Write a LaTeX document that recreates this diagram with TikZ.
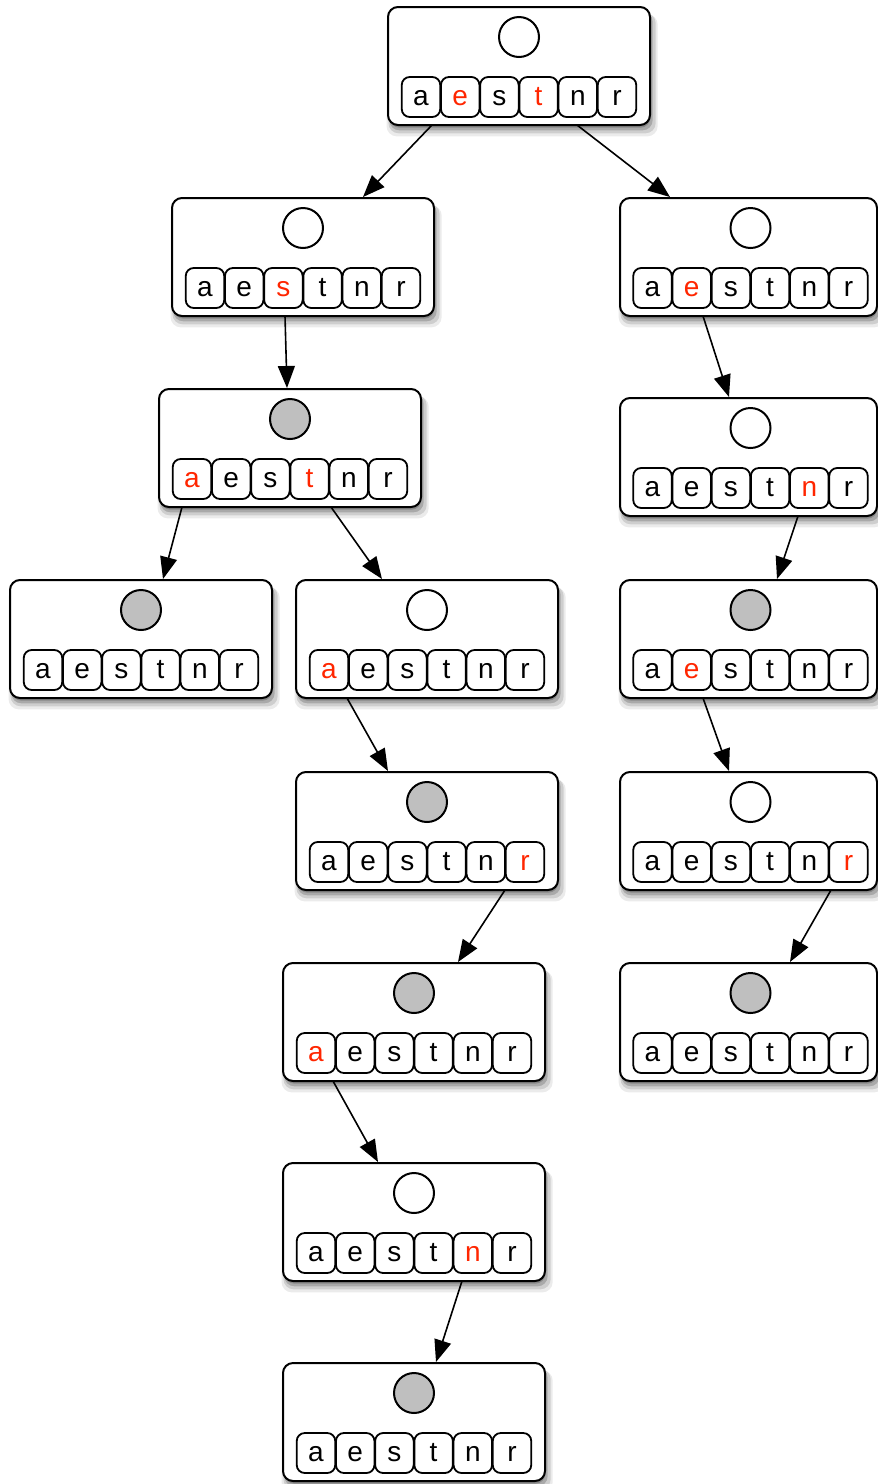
\documentclass[tikz,border=0pt]{standalone}
\usepackage{fontspec}
\setmainfont{Liberation Sans}
\usetikzlibrary{shadows,arrows.meta}
\definecolor{B}{RGB}{0,0,0}
\definecolor{R}{RGB}{255,38,0}
\definecolor{G}{RGB}{191,191,191}
\tikzset{
  statebox/.style={draw, line width=2pt, rounded corners=10pt, fill=white,
    minimum height=118pt, inner sep=0pt, outer sep=0pt,
    drop shadow={shadow xshift=3pt, shadow yshift=-9pt, shadow scale=1.035, fill=black, opacity=0.08},
    drop shadow={shadow xshift=3pt, shadow yshift=-7pt, shadow scale=1.02, fill=black, opacity=0.12},
    drop shadow={shadow xshift=2pt, shadow yshift=-5pt, shadow scale=1.005, fill=black, opacity=0.18},
    drop shadow={shadow xshift=1pt, shadow yshift=-3pt, shadow scale=0.995, fill=black, opacity=0.2}},
  cell/.style={draw, line width=1.8pt, rounded corners=8pt, fill=white,
    minimum width=38.5pt, minimum height=40pt, inner sep=0pt},
  dot/.style={circle, draw, line width=2pt, minimum size=40pt, inner sep=0pt},
  letter/.style={anchor=base, inner sep=0pt, font=\fontsize{28}{30}\selectfont},
  arr/.style={line width=1.6pt, -{Triangle[length=22pt,width=17pt]}}
}
\newcommand\mkbox[7]{%
  \node[statebox, minimum width=#3pt, anchor=north west] (#1) at (#2,#4) {};
  \node[dot, fill=#6] (#1-c) at (#5,#4+30) {};
  \foreach \L/\c [count=\i from 0] in {#7}{
    \node[cell] (#1-\i) at ({#5-98+39.2*\i},{#4+90}) {};
    \node[letter, text=\c] (#1-l\i) at ({#5-98+39.2*\i},{#4+98}) {\L};
  }
}
\begin{document}
\begin{tikzpicture}[x=1pt,y=-1pt]
\useasboundingbox (0,0) rectangle (878,1484);
\mkbox{root}{388}{262}{7}{519}{white}{a/B,e/R,s/B,t/R,n/B,r/B}
\mkbox{L1}{172}{262}{198}{303}{white}{a/B,e/B,s/R,t/B,n/B,r/B}
\mkbox{R1}{620}{257}{198}{750.5}{white}{a/B,e/R,s/B,t/B,n/B,r/B}
\mkbox{L2}{159}{262}{389}{290}{G}{a/R,e/B,s/B,t/R,n/B,r/B}
\mkbox{R2}{620}{257}{398}{750.5}{white}{a/B,e/B,s/B,t/B,n/R,r/B}
\mkbox{LL3}{10}{262}{580}{141}{G}{a/B,e/B,s/B,t/B,n/B,r/B}
\mkbox{LM3}{296}{262}{580}{427}{white}{a/R,e/B,s/B,t/B,n/B,r/B}
\mkbox{R3}{620}{257}{580}{750.5}{G}{a/B,e/R,s/B,t/B,n/B,r/B}
\mkbox{M4}{296}{262}{772}{427}{G}{a/B,e/B,s/B,t/B,n/B,r/R}
\mkbox{R4}{620}{257}{772}{750.5}{white}{a/B,e/B,s/B,t/B,n/B,r/R}
\mkbox{M5}{283}{262}{963}{414}{G}{a/R,e/B,s/B,t/B,n/B,r/B}
\mkbox{R5}{620}{257}{963}{750.5}{G}{a/B,e/B,s/B,t/B,n/B,r/B}
\mkbox{M6}{283}{262}{1163}{414}{white}{a/B,e/B,s/B,t/B,n/R,r/B}
\mkbox{M7}{283}{262}{1363}{414}{G}{a/B,e/B,s/B,t/B,n/B,r/B}

\draw[arr] ([xshift=44pt]root.south west) -- ([xshift=191pt,yshift=1pt]L1.north west);
\draw[arr] ([xshift=189pt]root.south west) -- ([xshift=50pt,yshift=1pt]R1.north west);
\draw[arr] ([xshift=113pt]L1.south west) -- ([xshift=128pt,yshift=1pt]L2.north west);
\draw[arr] ([xshift=23pt]L2.south west) -- ([xshift=153pt,yshift=1pt]LL3.north west);
\draw[arr] ([xshift=172pt]L2.south west) -- ([xshift=86pt,yshift=1pt]LM3.north west);
\draw[arr] ([xshift=51pt]LM3.south west) -- ([xshift=92pt,yshift=1pt]M4.north west);
\draw[arr] ([xshift=209pt]M4.south west) -- ([xshift=175pt,yshift=1pt]M5.north west);
\draw[arr] ([xshift=50pt]M5.south west) -- ([xshift=95pt,yshift=1pt]M6.north west);
\draw[arr] ([xshift=179pt]M6.south west) -- ([xshift=153pt,yshift=1pt]M7.north west);
\draw[arr] ([xshift=83pt]R1.south west) -- ([xshift=109pt,yshift=1pt]R2.north west);
\draw[arr] ([xshift=178pt]R2.south west) -- ([xshift=157pt,yshift=1pt]R3.north west);
\draw[arr] ([xshift=83pt]R3.south west) -- ([xshift=109pt,yshift=1pt]R4.north west);
\draw[arr] ([xshift=211pt]R4.south west) -- ([xshift=170pt,yshift=1pt]R5.north west);
\end{tikzpicture}
\end{document}
